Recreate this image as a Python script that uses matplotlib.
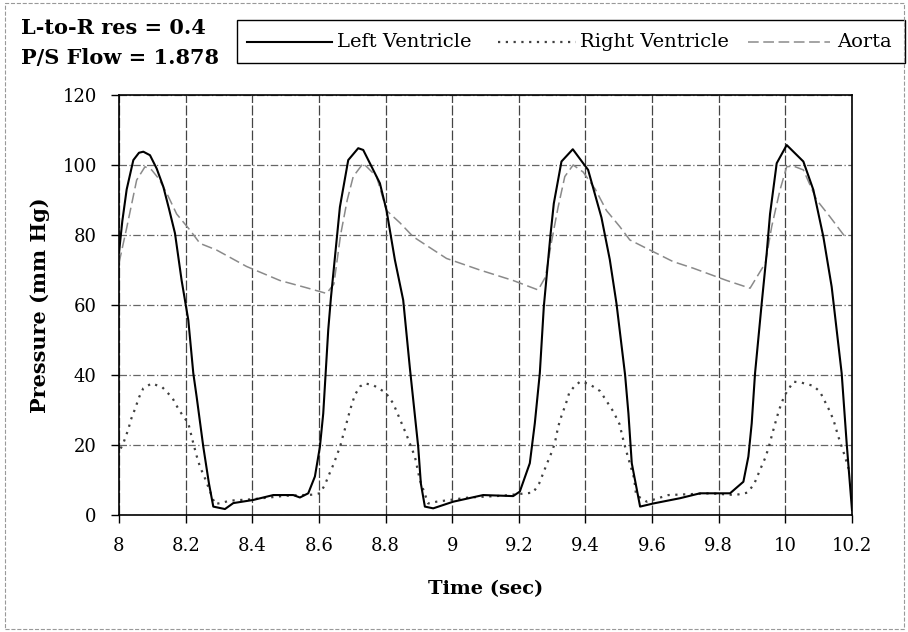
"""Ventricle / aorta pressure traces"""
import matplotlib.pyplot as plt
from matplotlib.patches import Rectangle
from matplotlib.lines import Line2D

plt.rcParams['font.family'] = ['DejaVu Serif']

# Left ventricle pressure (time, mm Hg)
lv_t = [8.0, 8.01, 8.023, 8.043, 8.06, 8.073, 8.093, 8.113, 8.133, 8.15, 8.168, 8.188, 8.208,
        8.223, 8.233, 8.253, 8.27, 8.283, 8.318, 8.343, 8.403, 8.463, 8.523, 8.543, 8.568,
        8.588, 8.603, 8.613, 8.628, 8.636, 8.663, 8.688, 8.718, 8.733, 8.763, 8.783, 8.803,
        8.828, 8.853, 8.873, 8.898, 8.906, 8.918, 8.943, 9.003, 9.093, 9.183, 9.203, 9.233,
        9.248, 9.263, 9.275, 9.295, 9.305, 9.328, 9.362, 9.408, 9.448, 9.473, 9.493, 9.519,
        9.529, 9.539, 9.564, 9.604, 9.684, 9.744, 9.834, 9.874, 9.889, 9.899, 9.909, 9.929,
        9.944, 9.954, 9.974, 10.004, 10.054, 10.084, 10.114, 10.139, 10.169, 10.184, 10.2]
lv_p = [75, 84, 93, 101.4, 103.5, 103.8, 102.8, 99, 93.8, 87.5, 80.5, 67, 55.7,
        40.5, 33.8, 19.5, 9, 2.4, 1.7, 3.4, 4.3, 5.7, 5.7, 5.0, 6.2,
        11, 19.5, 29, 52.9, 62, 88, 101.4, 104.8, 104.3, 98.6, 94.8, 87,
        72.9, 61.4, 42, 19.5, 9, 2.4, 1.9, 3.8, 5.7, 5.4, 6.7, 14.8,
        26.2, 40.5, 59.5, 80, 89, 101, 104.5, 98.6, 85, 73, 60.5, 40,
        29, 14.8, 2.4, 3.3, 4.8, 6.2, 6.2, 9.5, 16.7, 26.2, 40.5, 60.5,
        74.8, 86, 100.5, 105.7, 101, 92.9, 79.5, 65.2, 40.5, 20.5, 1.4]

# Right ventricle pressure
rv_t = [8.005, 8.013, 8.028, 8.036, 8.048, 8.061, 8.073, 8.098, 8.13, 8.16, 8.18, 8.208, 8.223,
        8.233, 8.243, 8.258, 8.288, 8.313, 8.333, 8.4, 8.5, 8.58, 8.603, 8.618, 8.628, 8.643,
        8.656, 8.665, 8.673, 8.68, 8.688, 8.698, 8.708, 8.723, 8.738, 8.763, 8.8, 8.823, 8.863,
        8.888, 8.903, 8.928, 8.953, 9.05, 9.15, 9.243, 9.261, 9.285, 9.298, 9.308, 9.318, 9.328,
        9.341, 9.351, 9.366, 9.384, 9.41, 9.444, 9.484, 9.502, 9.516, 9.526, 9.546, 9.552,
        9.584, 9.649, 9.774, 9.849, 9.887, 9.907, 9.924, 9.939, 9.949, 9.961, 9.971, 9.981,
        9.994, 10.002, 10.024, 10.049, 10.084, 10.104, 10.129, 10.144, 10.159, 10.179, 10.194]
rv_p = [19, 20.5, 24.5, 27.3, 30.3, 33.8, 36.2, 37.6, 36.5, 33.5, 30, 26.2, 20.5,
        16.9, 13.8, 10.5, 3.1, 3.6, 4.1, 4.5, 5.5, 5.8, 6.2, 8.6, 11, 14.3,
        17.6, 20, 22.9, 25.2, 28.1, 31.4, 34.3, 36.7, 37.6, 37.1, 35, 31.9, 22.9,
        16.7, 10, 3.3, 3.8, 5, 5.5, 6.4, 9, 14.8, 17.8, 20.5, 25.2, 28.3,
        31.7, 34.8, 36.7, 38.1, 37.5, 35.4, 29.5, 26, 20.5, 17.1, 10.5, 5.7,
        3.8, 5.7, 6.2, 5.7, 6.4, 9, 12.9, 16.2, 19, 23.3, 26.7, 30,
        33.3, 34.8, 38.1, 37.8, 36.9, 35.2, 30.5, 27.3, 22.4, 16.7, 11.9]

# Aortic pressure
ao_t = [8.0, 8.023, 8.053, 8.078, 8.098, 8.12, 8.143, 8.173, 8.213, 8.243, 8.293, 8.383, 8.483,
        8.56, 8.623, 8.645, 8.665, 8.685, 8.703, 8.733, 8.773, 8.803, 8.843, 8.883, 8.983,
        9.083, 9.183, 9.258, 9.28, 9.298, 9.318, 9.338, 9.363, 9.393, 9.43, 9.463, 9.503,
        9.533, 9.583, 9.663, 9.724, 9.824, 9.894, 9.94, 9.959, 9.984, 10.004, 10.024, 10.054,
        10.094, 10.134, 10.179]
ao_p = [72, 82, 95.7, 99.5, 98.6, 96, 92, 86, 81.4, 77.6, 75.7, 71, 67,
        65, 63.3, 66, 80, 90, 96.7, 100.5, 96.7, 87, 83.5, 79.5, 73.3,
        70, 67, 64.3, 68, 78, 88, 96.7, 100, 98, 93, 87, 82.4,
        78.6, 76.2, 72.4, 70.5, 67, 64.8, 72, 82.4, 92.9, 99.5, 99.7, 98.6,
        90, 85.2, 79.5]

x_ticks = [8, 8.2, 8.4, 8.6, 8.8, 9, 9.2, 9.4, 9.6, 9.8, 10, 10.2]
x_labels = ['8', '8.2', '8.4', '8.6', '8.8', '9', '9.2', '9.4', '9.6', '9.8', '10', '10.2']
y_ticks = [0, 20, 40, 60, 80, 100, 120]

W, H = 908, 632
fig = plt.figure(figsize=(W / 100, H / 100), dpi=100)
ax = fig.add_axes([119 / W, 117 / H, 733 / W, 420 / H])

lv_style = dict(color='black', lw=1.5)
rv_style = dict(color='#404040', lw=1.6, ls=(0, (1, 2.5)))
ao_style = dict(color='#8a8a8a', lw=1.1, ls=(0, (7, 3)))

ax.plot(ao_t, ao_p, **ao_style)
ax.plot(rv_t, rv_p, **rv_style)
ax.plot(lv_t, lv_p, **lv_style)

ax.set_xlim(8, 10.2)
ax.set_ylim(0, 120)
ax.set_xticks(x_ticks)
ax.set_xticklabels(x_labels)
ax.set_yticks(y_ticks)
ax.tick_params(direction='out', length=6, width=1, labelsize=13)
ax.tick_params(axis='x', pad=10)
ax.tick_params(axis='y', pad=10)
# vertical grid darker than horizontal, as in the scan
ax.xaxis.grid(True, color='#444444', ls=(0, (8, 2)), lw=0.9)
ax.yaxis.grid(True, color='#666666', ls=(0, (6, 2, 1, 2)), lw=0.9)
for s in ax.spines.values():
    s.set_linewidth(1.2)

ax.set_xlabel('Time (sec)', fontsize=14, fontweight='bold', labelpad=18)
ax.set_ylabel('Pressure (mm Hg)', fontsize=15, fontweight='bold', labelpad=9)


def fx(px):
    return px / W


def fy(py):
    return 1 - py / H


# parameter text
fig.text(fx(21), fy(28), 'L-to-R res = 0.4', fontsize=15, fontweight='bold', va='center')
fig.text(fx(21), fy(58), 'P/S Flow = 1.878', fontsize=15, fontweight='bold', va='center')

# legend box drawn by hand
fig.patches.append(Rectangle((fx(237), fy(63)), fx(905) - fx(237), fy(20) - fy(63),
                             transform=fig.transFigure, fill=False, edgecolor='black', lw=1.0))
leg_y = fy(42)
entries = [
    (247, 332, 337, 'Left Ventricle', lv_style),
    (498, 576, 580, 'Right Ventricle', rv_style),
    (748, 830, 837, 'Aorta', ao_style),
]
for x0, x1, xt, label, st in entries:
    fig.add_artist(Line2D([fx(x0), fx(x1)], [leg_y, leg_y], transform=fig.transFigure, **st))
    fig.text(fx(xt), leg_y, label, fontsize=14, va='center', ha='left')

# outer border
fig.patches.append(Rectangle((0.006, 0.004), 0.99, 0.992, transform=fig.transFigure,
                             fill=False, edgecolor='#999999', lw=0.8, ls='--'))

fig.savefig('out.png', dpi=100, facecolor='white')
